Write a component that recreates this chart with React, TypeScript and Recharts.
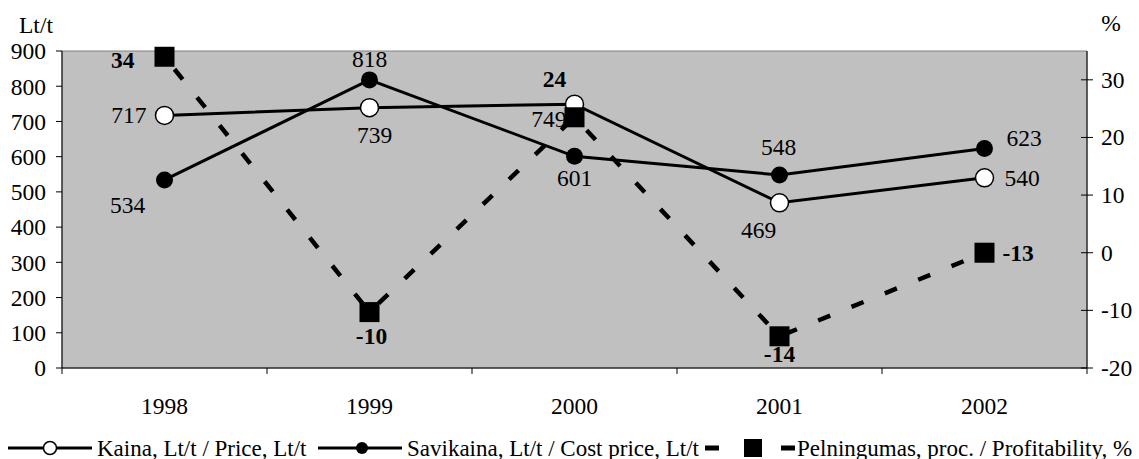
import { ComposedChart, Line, XAxis, YAxis, ReferenceArea, LabelList, Legend } from 'recharts';

const years = ['1998', '1999', '2000', '2001', '2002'];
const price = [717, 739, 749, 469, 540];
const cost = [534, 818, 601, 548, 623];
const profit = [34, -10.3, 23.5, -14.5, 0];
const profitLabels = ['34', '-10', '24', '-14', '-13'];

const leftTicks = [0, 100, 200, 300, 400, 500, 600, 700, 800, 900];
const rightTicks = [-20, -10, 0, 10, 20, 30];
const xTicks = [0.5, 1, 1.5, 2, 2.5, 3, 3.5, 4, 4.5, 5, 5.5];

const data = years.map((year, i) => ({
  x: i + 1,
  year,
  price: price[i],
  cost: cost[i],
  profit: profit[i],
}));

const FONT = '"Liberation Serif", "Times New Roman", serif';
const FS = 23.5;
const LEGEND_FS = 23;

// label placement per point: anchor, dx, dy (to text centre)
type Place = [string, number, number];
const priceLabelPos: Place[] = [
  ['end', -18, 0],
  ['middle', 5, 27],
  ['end', -8, 15],
  ['middle', -21, 27],
  ['start', 20, 0],
];
const costLabelPos: Place[] = [
  ['middle', -37, 25],
  ['middle', 0, -21],
  ['middle', 0, 22],
  ['middle', -1, -28],
  ['start', 22, -11],
];
const profitLabelPos: Place[] = [
  ['end', -30, 3],
  ['middle', 2, 24],
  ['middle', -20, -38],
  ['middle', 0, 18],
  ['start', 18, 0],
];

const makeLabel = (pos: Place[], bold = false, texts?: string[]) => (props: any) => {
  const { x, y, index, value } = props;
  const [anchor, dx, dy] = pos[index];
  return (
    <text
      x={x + dx}
      y={y + dy}
      textAnchor={anchor as any}
      dominantBaseline="central"
      fontFamily={FONT}
      fontSize={FS}
      fontWeight={bold ? 'bold' : 'normal'}
      fill="#000"
    >
      {texts ? texts[index] : value}
    </text>
  );
};

const PriceDot = (props: any) => (
  <circle key={`p-${props.index}`} cx={props.cx} cy={props.cy} r={9} fill="#fff" stroke="#000" strokeWidth={1.5} />
);
const CostDot = (props: any) => (
  <circle key={`c-${props.index}`} cx={props.cx} cy={props.cy} r={8.5} fill="#000" />
);
const SquareDot = (props: any) => (
  <rect key={`s-${props.index}`} x={props.cx - 10} y={props.cy - 10} width={20} height={20} fill="#000" />
);

const XTick = (props: any) => {
  const { x, y, payload } = props;
  const v = payload.value;
  if (Number.isInteger(v)) {
    return (
      <text x={x} y={y + 38} textAnchor="middle" dominantBaseline="central" fontFamily={FONT} fontSize={FS} fill="#000">
        {years[v - 1]}
      </text>
    );
  }
  return <line x1={x} y1={y} x2={x} y2={y + 6} stroke="#000" strokeWidth={1} />;
};

const RightTick = (props: any) => {
  const { x, y, payload } = props;
  return (
    <g>
      <line x1={x - 20} y1={y} x2={x - 8} y2={y} stroke="#000" strokeWidth={1} />
      <text x={x} y={y} textAnchor="start" dominantBaseline="central" fontFamily={FONT} fontSize={FS} fill="#000">
        {payload.value}
      </text>
    </g>
  );
};

const LegendBox = () => (
  <svg width={1139} height={46} style={{ display: 'block' }}>
    <g fontFamily={FONT} fontSize={LEGEND_FS} fill="#000">
      <line x1={8} y1={35} x2={92} y2={35} stroke="#000" strokeWidth={3} />
      <circle cx={50} cy={35} r={6.5} fill="#fff" stroke="#000" strokeWidth={1.5} />
      <text x={97} y={35} dominantBaseline="central">Kaina, Lt/t / Price, Lt/t</text>

      <line x1={318} y1={35} x2={402} y2={35} stroke="#000" strokeWidth={3} />
      <circle cx={362} cy={35} r={6} fill="#000" />
      <text x={407} y={35} dominantBaseline="central">Savikaina, Lt/t / Cost price, Lt/t</text>

      <rect x={705} y={32.5} width={14} height={5} fill="#000" />
      <rect x={744} y={26} width={18} height={18} fill="#000" />
      <rect x={781} y={32.5} width={14} height={5} fill="#000" />
      <text x={797} y={35} dominantBaseline="central">Pelningumas, proc. / Profitability, %</text>
    </g>
  </svg>
);

export default function App() {
  return (
    <div style={{ position: 'absolute', left: 0, top: 0 }}>
      <ComposedChart width={1139} height={459} data={data} margin={{ top: 51, right: 0, bottom: 0, left: 0 }}>
        <ReferenceArea
          xAxisId="x"
          yAxisId="l"
          x1={0.5}
          x2={5.5}
          y1={0}
          y2={900}
          fill="#C0C0C0"
          fillOpacity={1}
          stroke="#808080"
          strokeWidth={1}
        />
        <XAxis
          xAxisId="x"
          dataKey="x"
          type="number"
          domain={[0.5, 5.5]}
          ticks={xTicks}
          interval={0}
          tickLine={false}
          tickSize={0}
          tickMargin={0}
          axisLine={{ stroke: '#000' }}
          tick={<XTick />}
          height={45}
        />
        <YAxis
          yAxisId="l"
          domain={[0, 900]}
          ticks={leftTicks}
          interval={0}
          width={62}
          tickSize={6}
          tickMargin={10}
          axisLine={{ stroke: '#000' }}
          tickLine={{ stroke: '#000' }}
          tick={{ fill: '#000', fontSize: FS, fontFamily: FONT }}
          label={{
            content: () => (
              <text x={36} y={25} textAnchor="middle" dominantBaseline="central" fontFamily={FONT} fontSize={FS} fill="#000">
                Lt/t
              </text>
            ),
          }}
        />
        <YAxis
          yAxisId="r"
          orientation="right"
          domain={[-20, 35]}
          ticks={rightTicks}
          interval={0}
          width={52}
          tickSize={0}
          tickMargin={14}
          axisLine={{ stroke: '#000' }}
          tickLine={false}
          tick={<RightTick />}
          label={{
            content: () => (
              <text x={1111} y={23} textAnchor="middle" dominantBaseline="central" fontFamily={FONT} fontSize={FS} fill="#000">
                %
              </text>
            ),
          }}
        />
        <Legend verticalAlign="bottom" height={46} content={<LegendBox />} wrapperStyle={{ left: 0, width: 1139, height: 46 }} />
        <Line
          xAxisId="x"
          yAxisId="l"
          type="linear"
          dataKey="cost"
          stroke="#000"
          strokeWidth={3}
          dot={<CostDot />}
          activeDot={false}
          isAnimationActive={false}
        >
          <LabelList dataKey="cost" content={makeLabel(costLabelPos)} />
        </Line>
        <Line
          xAxisId="x"
          yAxisId="l"
          type="linear"
          dataKey="price"
          stroke="#000"
          strokeWidth={3}
          dot={<PriceDot />}
          activeDot={false}
          isAnimationActive={false}
        >
          <LabelList dataKey="price" content={makeLabel(priceLabelPos)} />
        </Line>
        <Line
          xAxisId="x"
          yAxisId="r"
          type="linear"
          dataKey="profit"
          stroke="#000"
          strokeWidth={4.5}
          strokeDasharray="13 23"
          strokeDashoffset={-16}
          dot={<SquareDot />}
          activeDot={false}
          isAnimationActive={false}
        >
          <LabelList dataKey="profit" content={makeLabel(profitLabelPos, true, profitLabels)} />
        </Line>
      </ComposedChart>
    </div>
  );
}
